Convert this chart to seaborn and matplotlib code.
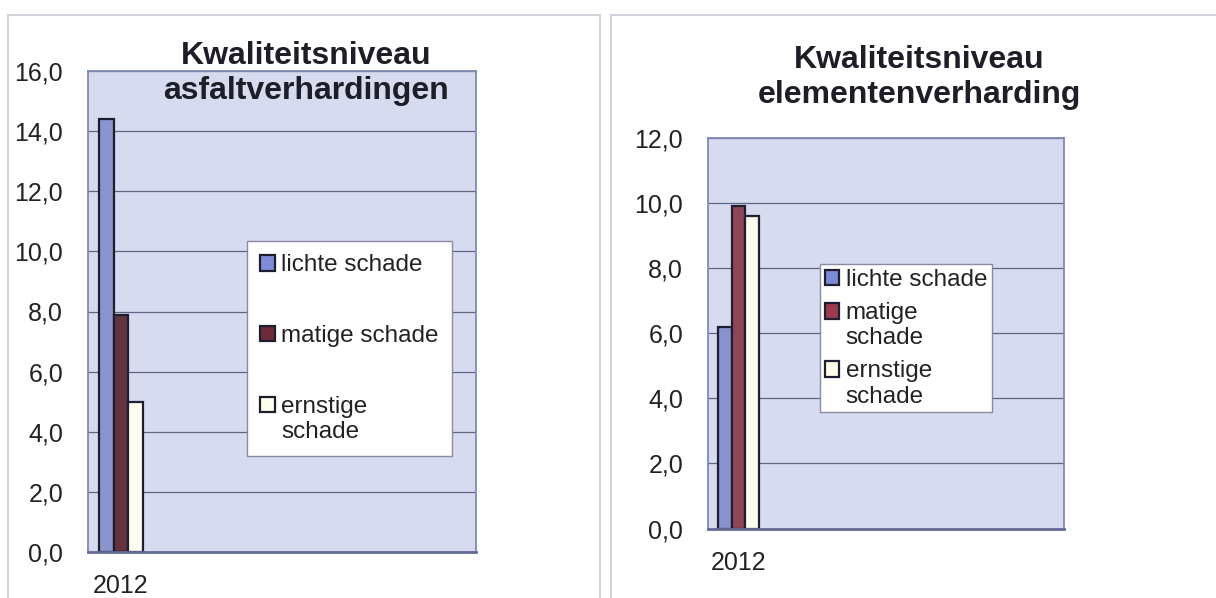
import pandas as pd
import numpy as np
import matplotlib.pyplot as plt
import seaborn as sns
from matplotlib.lines import Line2D
from matplotlib.patches import Patch, Rectangle
from matplotlib.legend_handler import HandlerPatch
from matplotlib.ticker import FuncFormatter


# data
jaren = ['2012']
schades = ['lichte schade', 'matige schade', 'ernstige schade']
asfalt = [14.4, 7.9, 5.0]
elementen = [6.2, 9.9, 9.6]

titel_asfalt = 'Kwaliteitsniveau\nasfaltverhardingen'
titel_elementen = 'Kwaliteitsniveau\nelementenverharding'
labels_asfalt = ['lichte schade', 'matige schade', 'ernstige\nschade']
labels_elementen = ['lichte schade', 'matige\nschade', 'ernstige\nschade']

kleuren_asfalt = ['#7E8CDA', '#6C2B38', '#FFFFEE']
kleuren_elementen = ['#7C8AD8', '#9C3A50', '#FFFFEE']
rand_balk = '#1E1E2E'


def maak_df(waarden):
    return pd.DataFrame({'jaar': jaren * len(schades),
                         'schade': schades,
                         'waarde': waarden})


# legend square next to the first line of a wrapped label
def boven_blokje(regels):
    def f(legend, orig_handle, xdescent, ydescent, width, height, fontsize):
        shift = 0.6 * fontsize * (regels - 1)
        return Rectangle((-xdescent, -ydescent + shift), width, height)
    return f


sns.set_style('white')
plt.rcParams['font.family'] = ['Liberation Sans', 'DejaVu Sans']

W, H = 1216, 598
fig = plt.figure(figsize=(W / 100, H / 100), dpi=100)
fig.patch.set_facecolor('white')


def px(x0, y0, x1, y1):
    # pixel box (top-left origin) -> figure fraction rect
    return [x0 / W, 1 - y1 / H, (x1 - x0) / W, (y1 - y0) / H]


def teken(rect, df, kleuren, ymax, xright, titel, tx, ty, labels, leg_xy,
          spacing, bpad):
    ax = fig.add_axes(rect)
    sns.barplot(data=df, x='jaar', y='waarde', hue='schade', hue_order=schades,
                palette=kleuren, width=0.67, gap=0, edgecolor=rand_balk,
                linewidth=1.6, legend=False, ax=ax)
    ax.set_facecolor('#D6DBF0')
    ax.set_ylim(0, ymax)
    ax.set_xlim(-0.5, xright)
    ax.set_yticks(np.arange(0, ymax + 0.1, 2))
    ax.yaxis.set_major_formatter(FuncFormatter(lambda v, p: f'{v:.1f}'.replace('.', ',')))
    ax.grid(axis='y', color='#5E6482', linewidth=0.9)
    ax.set_axisbelow(True)
    ax.tick_params(axis='y', length=0, pad=18, labelsize=18, labelcolor='#222222')
    ax.tick_params(axis='x', length=0, pad=16, labelsize=18, labelcolor='#222222')
    ax.set_xlabel('')
    ax.set_ylabel('')
    for s in ax.spines.values():
        s.set_visible(True)
        s.set_color('#8088B6')
        s.set_linewidth(1.3)
    ax.spines['bottom'].set_color('#646A96')
    ax.spines['bottom'].set_linewidth(2)

    handles = [Patch(facecolor=k, edgecolor=rand_balk, linewidth=1.6) for k in kleuren]
    hmap = {h: HandlerPatch(patch_func=boven_blokje(l.count('\n') + 1))
            for h, l in zip(handles, labels)}
    ax.legend(handles, labels, handler_map=hmap, loc='upper left',
              bbox_to_anchor=(leg_xy[0] / W, 1 - leg_xy[1] / H),
              bbox_transform=fig.transFigure, fontsize=17.5, frameon=True,
              fancybox=False, framealpha=1, edgecolor='#8A8AA0',
              handlelength=0.6, handleheight=0.6, handletextpad=0.25,
              labelspacing=spacing, borderpad=bpad, borderaxespad=0)
    ax.get_legend().get_frame().set_linewidth(1)
    for t in ax.get_legend().get_texts():
        t.set_color('#222222')
        t.set_linespacing(1.2)

    fig.text(tx / W, 1 - ty / H, titel, ha='center', va='center',
             fontsize=23, fontweight='bold', color='#1E1E28', linespacing=1.2)
    return ax


teken(px(88, 71, 476, 552), maak_df(asfalt), kleuren_asfalt, 16, 5.38,
      titel_asfalt, 306, 73.5, labels_asfalt, (247, 241), 2.0, 0.55)
teken(px(708, 138, 1064, 528.5), maak_df(elementen), kleuren_elementen, 12, 5.34,
      titel_elementen, 919, 77.5, labels_elementen, (820, 264), 0.45, 0.2)

# panel borders
rand = dict(color='#D2D2DC', linewidth=1.5, transform=fig.transFigure)
for (x0, y0, x1, y1) in [(8, 15, 8, H), (8, 15, 600, 15), (600, 15, 600, H),
                         (611, 15, 611, H), (611, 15, W, 15)]:
    fig.add_artist(Line2D([x0 / W, x1 / W], [1 - y0 / H, 1 - y1 / H], **rand))

plt.savefig('out.png', dpi=100)
